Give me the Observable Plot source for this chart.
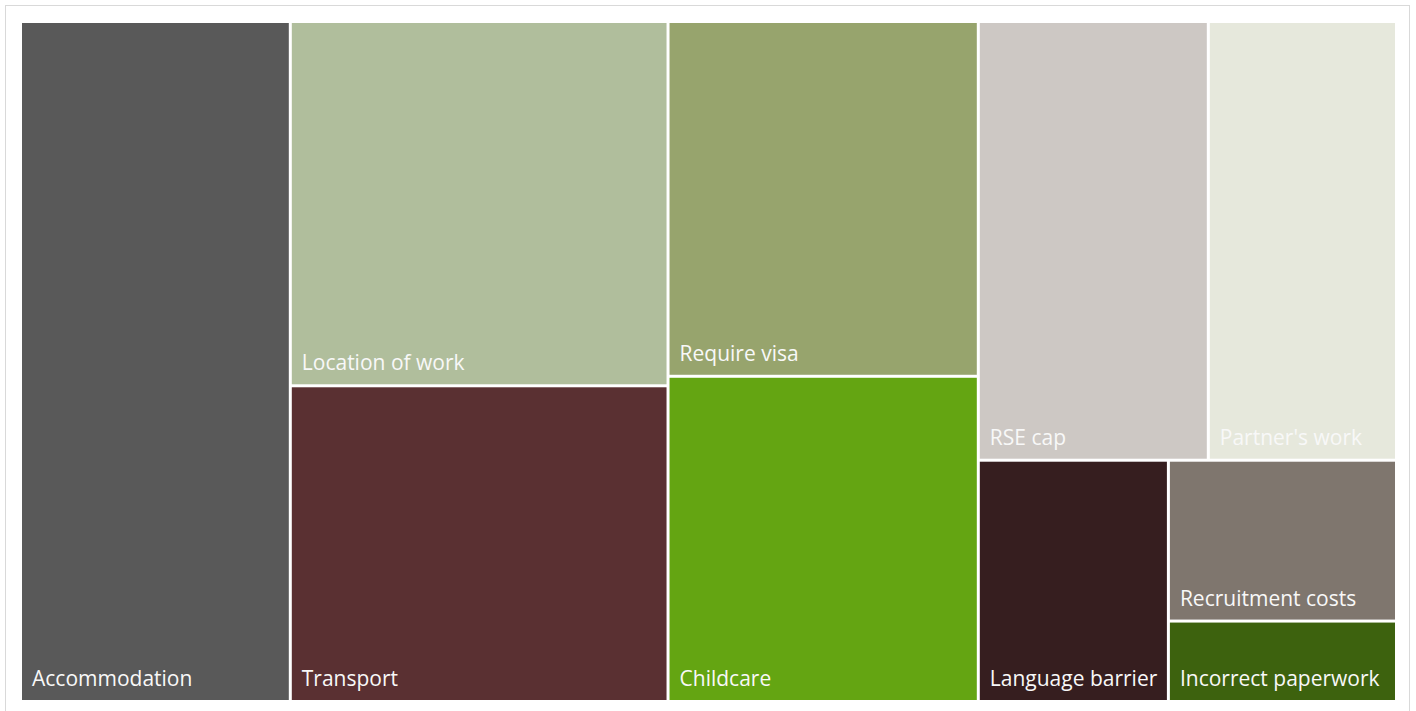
<!DOCTYPE html>
<html>
<head>
<meta charset="utf-8">
<script src="https://cdn.jsdelivr.net/npm/d3@7"></script>
<script src="https://cdn.jsdelivr.net/npm/@observablehq/plot@0.6"></script>
<style>
  html, body { margin: 0; padding: 0; background: #fff; }
  #wrap { position: relative; width: 1416px; height: 711px; overflow: hidden; }
  #frame { position: absolute; left: 5px; top: 5px; width: 1405px; height: 720px; border: 1px solid #d9d9d9; box-sizing: border-box; }
  #chart { position: absolute; left: 0; top: 0; }
</style>
</head>
<body>
<div id="wrap"><div id="frame"></div><div id="chart"></div></div>
<script>
// Leaf categories and their values (share of respondents)
const categories = ["Accommodation", "Location of work", "Transport", "Require visa", "Childcare",
  "RSE cap", "Partner's work", "Language barrier", "Recruitment costs", "Incorrect paperwork"];
const values = [20, 15, 13, 12, 11, 11, 9, 5, 4, 2];
const colors = ["#595959", "#b0be9c", "#5a3032", "#97a46d", "#64a512",
  "#cdc8c4", "#e6e8dc", "#361e1f", "#7f766e", "#3d620e"];
const leafGroups = ["A", "B", "B", "C", "C", "D1", "D1", "D2", "D3", "D3"];
// Grouping of the tiles (hierarchy nodes)
const groupNames = ["A", "B", "C", "D", "D1", "D2", "D3"];
const groupParents = ["root", "root", "root", "root", "D", "D", "D2"];

const rows = [{id: "root", parent: null}]
  .concat(groupNames.map((g, i) => ({id: g, parent: groupParents[i]})))
  .concat(categories.map((c, i) => ({id: c, parent: leafGroups[i], value: values[i], color: colors[i]})));

const root = d3.stratify().id(d => d.id).parentId(d => d.parent)(rows)
  .sum(d => d.value || 0);
const order = n => d3.min(n.leaves(), l => categories.indexOf(l.id));
root.sort((a, b) => order(a) - order(b));
d3.treemap().tile(d3.treemapSliceDice).size([1, 1])(root);

const tiles = root.leaves().map(l => ({
  name: l.id, value: l.value, color: l.data.color,
  x0: l.x0, x1: l.x1, y0: l.y0, y1: l.y1
}));

const chart = Plot.plot({
  width: 1416,
  height: 711,
  marginLeft: 20.5,
  marginRight: 19.5,
  marginTop: 21.5,
  marginBottom: 9.5,
  x: {domain: [0, 1], axis: null},
  y: {domain: [1, 0], axis: null},
  style: {fontFamily: "'Open Sans', sans-serif", background: "transparent"},
  marks: [
    Plot.rect(tiles, {x1: "x0", x2: "x1", y1: "y0", y2: "y1", fill: "color", inset: 1.5}),
    Plot.text(tiles, {x: "x0", y: "y1", text: "name", fill: "#f8f8f8", fontSize: 21,
      textAnchor: "start", lineAnchor: "bottom", dx: 11, dy: -16})
  ]
});
document.getElementById("chart").appendChild(chart);
</script>
</body>
</html>
